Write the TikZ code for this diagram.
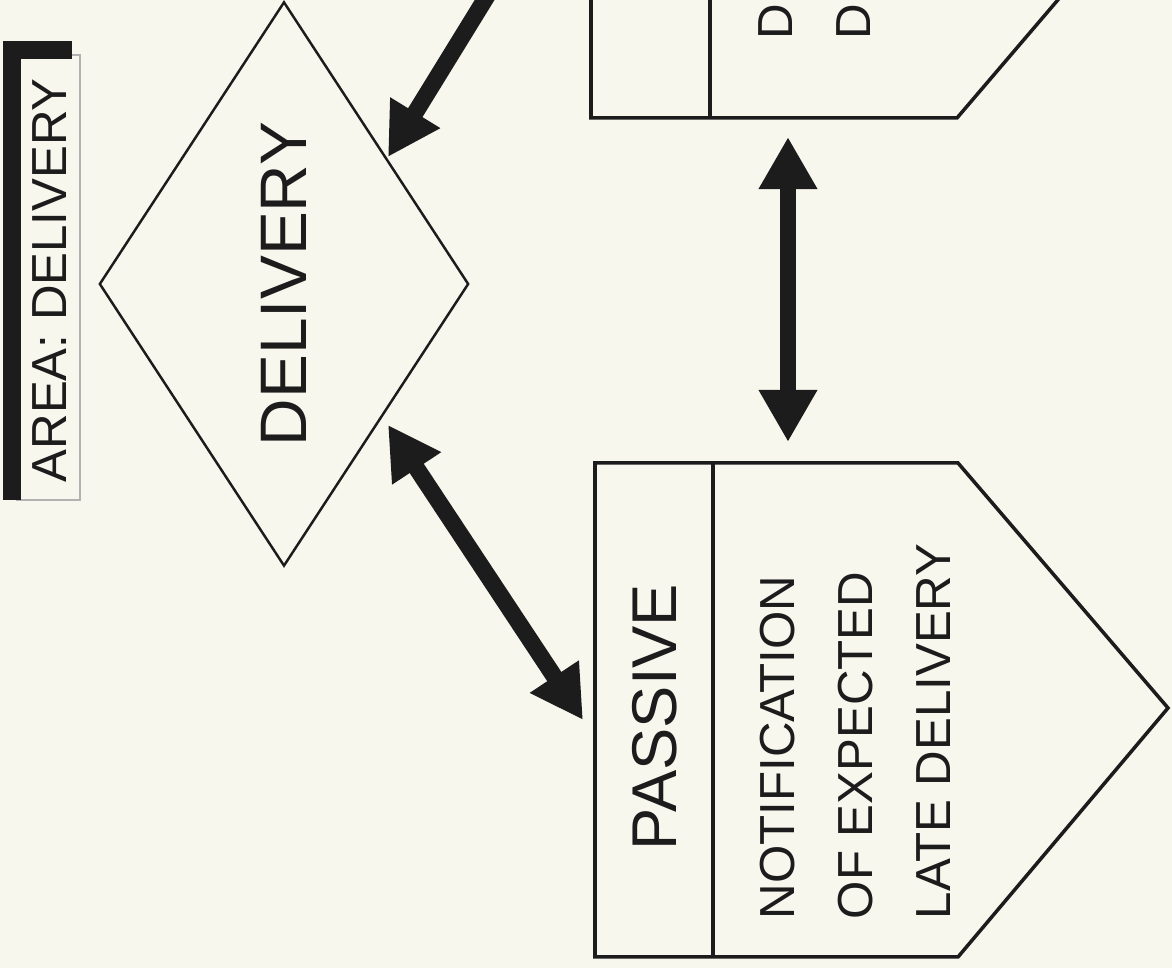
\documentclass[tikz,border=0pt]{standalone}
\usepackage{fontspec}
\setmainfont{Liberation Sans}
\usetikzlibrary{arrows.meta,shapes.geometric}

\definecolor{paper}{RGB}{248,247,238}
\definecolor{ink}{RGB}{28,28,28}

\tikzset{
  outline/.style={draw=ink,line width=1pt,line join=miter},
  fatarrow/.style={draw=ink,fill=ink,line width=4.8pt,
    arrows={-Triangle[length=0.52cm,width=0.55cm]}},
  fatboth/.style={fatarrow,
    arrows={Triangle[length=0.52cm,width=0.55cm]-Triangle[length=0.52cm,width=0.55cm]}},
  boxtext/.style={rotate=90,inner sep=0pt,text=ink,font=\fontsize{14pt}{16pt}\selectfont}
}

\begin{document}
\begin{tikzpicture}[x=0.01cm,y=-0.01cm]

%page and clip
\fill[paper] (0,0) rectangle (1172,968);
\useasboundingbox (0,0) rectangle (1172,968);
\clip (0,0) rectangle (1172,968);

%area label with its shadow
\draw[gray!60,line width=0.4pt] (17,55) rectangle (80,500);
\draw[ink,line width=5pt] (12,500) -- (12,50) -- (72,50);
\node[boxtext,anchor=base west] (area) at (66,483) {AREA: DELIVERY};

%decision diamond
\node[diamond,draw=ink,line width=0.7pt,rotate=90,inner sep=0pt,
      minimum width=5.64cm,minimum height=3.3cm,text=ink,
      font=\fontsize{18.7pt}{20pt}\selectfont] (dlv) at (284,284) {DELIVERY};

%upper box, cut by the page edge
\draw[outline] (1168,-129) -- (957,118) -- (591,118) -- (591,-376) -- (957,-376) -- cycle;
\draw[outline] (710,-376) -- (710,118);
\node[boxtext,anchor=base west] (up1) at (792,40) {DI};
\node[boxtext,anchor=base west] (up2) at (870,40) {DI};

%passive box
\draw[outline] (1168,708) -- (958,957) -- (595,957) -- (595,463) -- (958,463) -- cycle;
\draw[outline] (713,463) -- (713,957);
\node[boxtext,font=\fontsize{18pt}{20pt}\selectfont] (pas) at (655,717) {PASSIVE};
\node[boxtext,anchor=base west] (pas1) at (794,920) {NOTIFICATION};
\node[boxtext,anchor=base west] (pas2) at (872,920) {OF EXPECTED};
\node[boxtext,anchor=base west] (pas3) at (950,920) {LATE DELIVERY};

%arrow ends
\coordinate (upFrom) at (500,-25);
\coordinate (dlvIn) at (388,157);
\coordinate (dlvOut) at (388,425);
\coordinate (pasIn) at (583,720);
\coordinate (upBot) at (788,137);
\coordinate (pasTop) at (788,442);

%arrows
\draw[fatarrow] (upFrom) -- (dlvIn);
\draw[fatboth] (dlvOut) -- (pasIn);
\draw[fatboth] (upBot) -- (pasTop);

\end{tikzpicture}
\end{document}
